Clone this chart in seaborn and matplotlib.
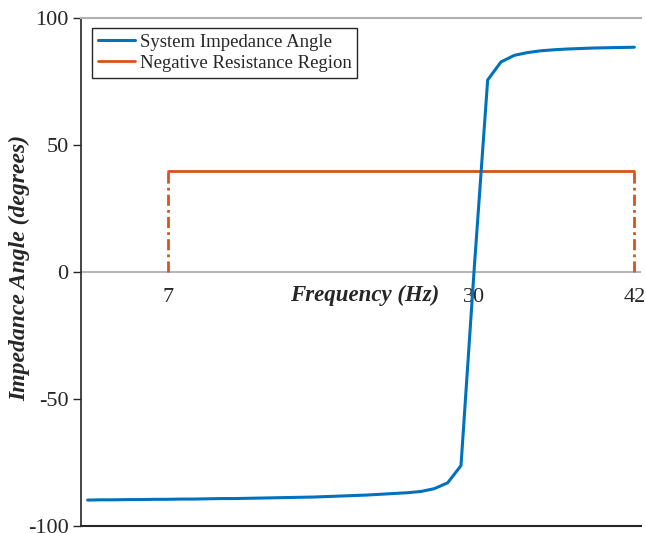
import numpy as np
import pandas as pd
import matplotlib
matplotlib.use("Agg")
import matplotlib.pyplot as plt
import seaborn as sns

# ---- data ----
freq = list(range(1, 43))
angle = [-89.9, -89.8, -89.8, -89.7, -89.7, -89.6, -89.6, -89.5, -89.5, -89.4,
         -89.3, -89.3, -89.2, -89.1, -89.0, -88.9, -88.8, -88.7, -88.5, -88.3,
         -88.1, -87.9, -87.6, -87.3, -87.0, -86.5, -85.4, -83.1, -76.3, 2.0,
         75.7, 82.8, 85.4, 86.5, 87.2, 87.6, 87.9, 88.1, 88.3, 88.4,
         88.5, 88.6]
region_f = [7, 42]
region_level = 40
xticks = [7, 30, 42]
yticks = [-100, -50, 0, 50, 100]

sns.set_theme(style="white")
plt.rcParams['font.family'] = ['Liberation Serif', 'DejaVu Serif']

blue = "#0072BD"
orange = "#D95319"
dark = "#262626"

fig = plt.figure(figsize=(6.46, 5.33), dpi=100)
ax = fig.add_axes([81/646, 7.3/533, 560/646, 507.4/533])

df = pd.DataFrame({"f": freq, "a": angle})
sns.lineplot(data=df, x="f", y="a", ax=ax, color=blue, lw=2.2,
             label="System Impedance Angle", zorder=4)

df_r = pd.DataFrame({"f": region_f, "a": [region_level, region_level]})
sns.lineplot(data=df_r, x="f", y="a", ax=ax, color=orange, lw=2.0,
             label="Negative Resistance Region", zorder=3)
for fv in region_f:
    ax.plot([fv, fv], [0, region_level], color=orange, lw=2.0,
            ls=(0, (4, 1.5, 1, 1.5)), zorder=3)

ax.axhline(0, color="#a8a8a8", lw=1.2, zorder=1)

ax.set_xlim(0.5, 42.5)
ax.set_ylim(-100, 100)
ax.set_yticks(yticks)
ax.set_yticklabels([str(v) for v in yticks], fontsize=16, color=dark)
ax.set_xticks(xticks)
ax.set_xticklabels([str(v) for v in xticks], fontsize=16, color=dark)
ax.tick_params(axis='x', length=0, pad=-(525.7 - 288) / 1.389)
ax.tick_params(axis='y', length=6, width=1, color=dark, direction='out', pad=3, left=True)

ax.spines['right'].set_visible(False)
ax.spines['top'].set_color("#b0b0b0")
ax.spines['top'].set_linewidth(1.5)
ax.spines['left'].set_color(dark)
ax.spines['left'].set_linewidth(1.2)
ax.spines['bottom'].set_color(dark)
ax.spines['bottom'].set_linewidth(1.5)

ax.set_xlabel("Frequency (Hz)", fontsize=16.5, fontweight='bold', fontstyle='italic',
              color=dark, va='center')
ax.xaxis.set_label_coords((365 - 81) / 560, (525.7 - 295) / 507.4)
ax.set_ylabel("Impedance Angle (degrees)", fontsize=17, fontweight='bold',
              fontstyle='italic', color=dark, va='center')
ax.yaxis.set_label_coords(-(81 - 20) / 560, (525.7 - 268) / 507.4)

leg = ax.legend(loc='upper left', bbox_to_anchor=(11/560, 1 - 9.7/507.4),
                fontsize=13.5, frameon=True, fancybox=False, framealpha=1,
                edgecolor=dark, handlelength=2.0, handletextpad=0.25,
                borderpad=0.3, labelspacing=0.22, borderaxespad=0)
leg.get_frame().set_linewidth(1.0)

fig.savefig("out.png", dpi=100)
